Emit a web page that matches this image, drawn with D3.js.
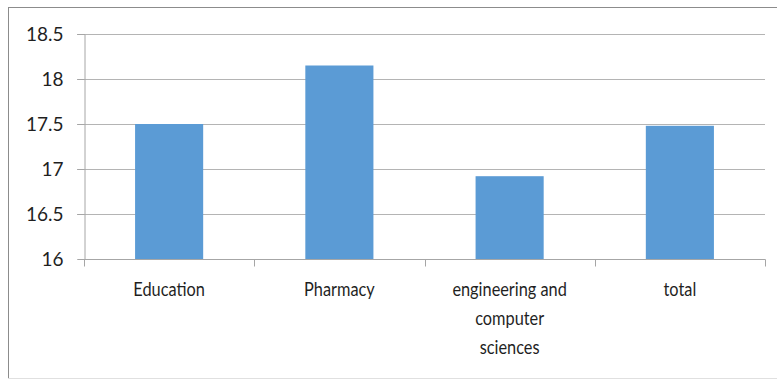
<!DOCTYPE html>
<html>
<head>
<meta charset="utf-8">
<script src="https://cdn.jsdelivr.net/npm/d3@7"></script>
<style>
  html, body { margin: 0; padding: 0; background: #fff; }
  svg { display: block; }
  text { font-family: Lato, "Open Sans", sans-serif; fill: #1f1f1f; }
</style>
</head>
<body>
<svg id="chart" width="777" height="379"></svg>
<script>
const categories = ["Education", "Pharmacy", "engineering and computer sciences", "total"];
const values = [17.5, 18.15, 16.92, 17.48];
const yTicks = [16, 16.5, 17, 17.5, 18, 18.5];

(function () {
const svg = d3.select("#chart");
const mLeft = 84, mRight = 765, mTop = 34, mBottom = 259;
const sx = 0.86;

// outer frame
svg.append("line").attr("x1", 8).attr("x2", 777).attr("y1", 7.5).attr("y2", 7.5).attr("stroke", "#8c8c8c");
svg.append("line").attr("x1", 8.5).attr("x2", 8.5).attr("y1", 7).attr("y2", 379).attr("stroke", "#8c8c8c");
svg.append("line").attr("x1", 8).attr("x2", 777).attr("y1", 378.5).attr("y2", 378.5).attr("stroke", "#e0e0e0");

const x = d3.scaleBand().domain(categories).range([mLeft, mRight]).paddingInner(0.6).paddingOuter(0.3);
const y = d3.scaleLinear().domain([16, 18.5]).range([mBottom, mTop]);

// gridlines
svg.append("g").selectAll("line").data(yTicks.slice(1)).join("line")
  .attr("x1", mLeft - 7).attr("x2", mRight)
  .attr("y1", d => Math.round(y(d)) + 0.5).attr("y2", d => Math.round(y(d)) + 0.5)
  .attr("stroke", "#b4b4b4").attr("stroke-width", 1.2);

// y axis
const yAxis = d3.axisLeft(y).tickValues(yTicks).tickSize(7).tickPadding(14).tickFormat(d => String(d));
const gy = svg.append("g").attr("transform", `translate(${mLeft + 0.5},0)`).call(yAxis);
gy.select(".domain").attr("stroke", "#a6a6a6");
gy.selectAll(".tick line").attr("stroke", "#a6a6a6");
gy.selectAll(".tick text").style("font-size", "19px").attr("fill", "#1f1f1f");

// bars
svg.append("g").selectAll("rect").data(values).join("rect")
  .attr("x", (d, i) => x(categories[i]))
  .attr("width", x.bandwidth())
  .attr("y", d => y(d))
  .attr("height", d => y(16) - y(d))
  .attr("fill", "#5b9bd5");

// x axis
const gx = svg.append("g").attr("transform", `translate(0,${mBottom + 0.5})`);
gx.append("line").attr("x1", mLeft).attr("x2", mRight + 0.5).attr("y1", 0).attr("y2", 0).attr("stroke", "#a6a6a6");
const step = x.step();
const bounds = d3.range(categories.length + 1).map(i => mLeft + i * step);
gx.selectAll("line.t").data(bounds).join("line").attr("class", "t")
  .attr("x1", d => Math.round(d) + 0.5).attr("x2", d => Math.round(d) + 0.5)
  .attr("y1", 0).attr("y2", 7).attr("stroke", "#a6a6a6");

// category labels with wrapping
const maxW = 130;
categories.forEach((c, i) => {
  const cx = x(c) + x.bandwidth() / 2;
  const t = gx.append("text").attr("text-anchor", "middle").style("font-size", "19px")
    .attr("transform", `translate(${cx},0) scale(${sx},1)`);
  const words = c.split(" ");
  let lines = [], cur = [];
  const meas = svg.append("text").style("font-size", "19px");
  words.forEach(w => {
    const trial = cur.concat([w]).join(" ");
    meas.text(trial);
    if (meas.node().getComputedTextLength() * sx > maxW && cur.length) { lines.push(cur.join(" ")); cur = [w]; }
    else cur.push(w);
  });
  if (cur.length) lines.push(cur.join(" "));
  meas.remove();
  lines.forEach((l, j) => {
    t.append("tspan").attr("x", 0).attr("y", 37 + j * 29).text(l);
  });
});
})();
</script>
</body>
</html>
